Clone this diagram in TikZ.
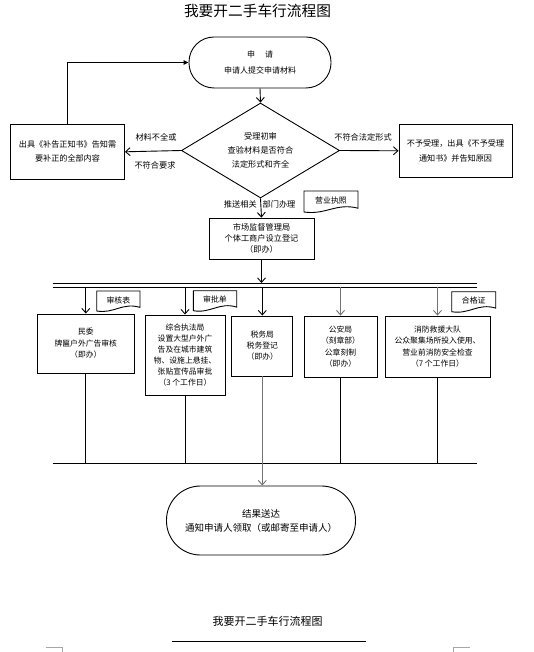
\documentclass[tikz,border=0pt]{standalone}
\usepackage{fontspec}
\setmainfont{Noto Sans CJK SC}
\usetikzlibrary{arrows.meta,calc,shapes.geometric}
\newcommand{\myfs}[2]{\fontsize{#1}{#2}\selectfont}
\tikzset{
  ln/.style={line width=0.9pt, draw=black},
  gln/.style={line width=0.9pt, draw=black!55},
  arr/.style={-{Straight Barb[length=4.5pt,width=8pt]}},
  box/.style={draw, line width=0.9pt, align=center, inner sep=0pt, text=black},
  term/.style={box},
  lbl/.style={inner sep=0pt, text=black, font={\myfs{8.2}{10}}},
  doctext/.style={inner sep=0pt, text=black, font={\myfs{7.9}{9}}},
  docline/.style={line width=0.9pt, draw=black},
}
\newcommand{\docbox}[6]{%
  \node[doctext] (#1) at ({#2+#4/2},{#3+#5/2-1}) {#6};
  \draw[docline] (#2,#3) -- ({#2+#4},#3) -- ({#2+#4},{#3+0.82*#5})
    .. controls ({#2+0.6*#4},{#3+0.55*#5}) and ({#2+0.4*#4},{#3+1.15*#5}) .. (#2,{#3+#5}) -- cycle;
}
\begin{document}
\begin{tikzpicture}[x=1pt,y=-1pt]
\useasboundingbox[fill=white] (0,0) rectangle (534,652);

% titles
\node[inner sep=0pt, text=black, font={\myfs{14.7}{16}}] (title) at (257.5,11) {我要开二手车行流程图};

% start
\node[term, minimum width=142pt, minimum height=51pt, rounded corners=25pt, font={\myfs{8}{15.5}}] (start) at (260,62.5) {申\hspace{10pt}请\\申请人提交申请材料};

% diamond
\node[draw, diamond, aspect=1.66, minimum width=158pt, minimum height=95pt, inner sep=0pt, line width=0.9pt, align=center, text=black, font={\myfs{8.2}{14.3}}] (dia) at (260.5,150.5) {受理初审\\查验材料是否符合\\法定形式和齐全};

% side boxes
\node[box, minimum width=114pt, minimum height=55pt, font={\myfs{8.1}{14}}] (lbox) at (67.5,151.8) {出具《补告正知书》告知需\\要补正的全部内容};
\node[box, minimum width=113pt, minimum height=53pt, font={\myfs{8.1}{15}}] (rbox) at (455.5,150.8) {不予受理，出具《不予受理\\通知书》并告知原因};

% labels
\node[lbl] (l1) at (156,137) {材料不全或};
\node[lbl] (l2) at (155,165.3) {不符合要求};
\node[lbl] (l3) at (363,137) {不符合法定形式};
\node[lbl] (l4) at (240.3,204) {推送相关};
\node[lbl] (l5) at (279,204) {部门办理};

% market box
\node[box, minimum width=105pt, minimum height=41pt, font={\myfs{8.2}{11}}] (market) at (261.5,238.5) {市场监督管理局\\个体工商户设立登记\\（即办）};

% docs
\docbox{d0}{304}{191}{54}{21}{营业执照}
\docbox{d1}{96.7}{291}{43.3}{20}{审核表}
\docbox{d2}{193.3}{290.7}{43.4}{20}{审批单}
\docbox{d3}{451.7}{291.7}{44}{20}{合格证}

% bus coordinates
\coordinate (busTL) at (52.7,283);
\coordinate (busTR) at (476.7,283);
\coordinate (busBL) at (52.7,287);
\coordinate (busBR) at (476.7,287);
\coordinate (botL) at (52.7,463);
\coordinate (botR) at (476.7,463);

% department boxes
\node[box, minimum width=97pt, minimum height=59pt, font={\myfs{7.8}{11.5}}] (b1) at (85.8,343.5) {民委\\牌匾户外广告审核\\（即办）};
\node[box, minimum width=80pt, minimum height=80pt, font={\myfs{7.8}{11}}] (b2) at (185,355) {综合执法局\\设置大型户外广\\告及在城市建筑\\物、设施上悬挂、\\张贴宣传品审批\\（3 个工作日）};
\node[box, minimum width=61pt, minimum height=60pt, font={\myfs{7.8}{11}}] (b3) at (262.3,346) {税务局\\税务登记\\（即办）};
\node[box, minimum width=73pt, minimum height=61pt, font={\myfs{7.8}{11.5}}] (b4) at (340.5,346.5) {公安局\\（刻章部）\\公章刻制\\（即办）};
\node[box, minimum width=105pt, minimum height=61pt, font={\myfs{7.8}{11.3}}] (b5) at (437.5,346.5) {消防救援大队\\公众聚集场所投入使用、\\营业前消防安全检查\\（7 个工作日）};

% end
\node[term, minimum width=189pt, minimum height=69pt, rounded corners=34pt, font={\myfs{9.5}{14}}] (end) at (261,520.5) {结果送达\\通知申请人领取（或邮寄至申请人）};

% bottom title
\node[inner sep=0pt, text=black, font={\myfs{11}{12}}] (title2) at (267.5,621) {我要开二手车行流程图};
\coordinate (ulL) at (171.8,641);
\coordinate (ulR) at (365.6,641);

% connectors
\draw[ln, arr] (start.south) -- (dia.north);
\draw[ln, arr] (dia.west) -- (lbox.east);
\draw[ln, arr] (dia.east) -- (rbox.west);
\draw[ln, arr] (dia.south) -- (market.north);
\draw[ln, -{Triangle[length=5pt,width=4.5pt]}] (lbox.north) |- (start.west);
\draw[ln, arr] (market.south) -- (market.south |- busTL);
\draw[ln] (busTL) -- (busTR);
\draw[ln] (busBL) -- (busBR);
\draw[ln, arr] (b1.north |- busBL) -- (b1.north);
\draw[ln, arr] (b2.north |- busBL) -- (b2.north);
\draw[ln, arr] (b3.north |- busBL) -- (b3.north);
\draw[gln, arr] (b4.north |- busBL) -- (b4.north);
\draw[gln, arr] (b5.north |- busBL) -- (b5.north);
\draw[ln] (b1.south) -- (b1.south |- botL);
\draw[ln] (b2.south) -- (b2.south |- botL);
\draw[ln] (b4.south) -- (b4.south |- botL);
\draw[ln] (b5.south) -- (b5.south |- botL);
\draw[ln] (botL) -- (botR);
\draw[gln, arr] (b3.south) -- (b3.south |- end.north);
\draw[ln] (ulL) -- (ulR);

% corner marks
\draw[line width=0.8pt, draw=black!35] (46,647) -- (62.3,647) -- (62.3,652);
\draw[line width=0.8pt, draw=black!35] (453.3,652) -- (453.3,647) -- (470,647);
\end{tikzpicture}
\end{document}
